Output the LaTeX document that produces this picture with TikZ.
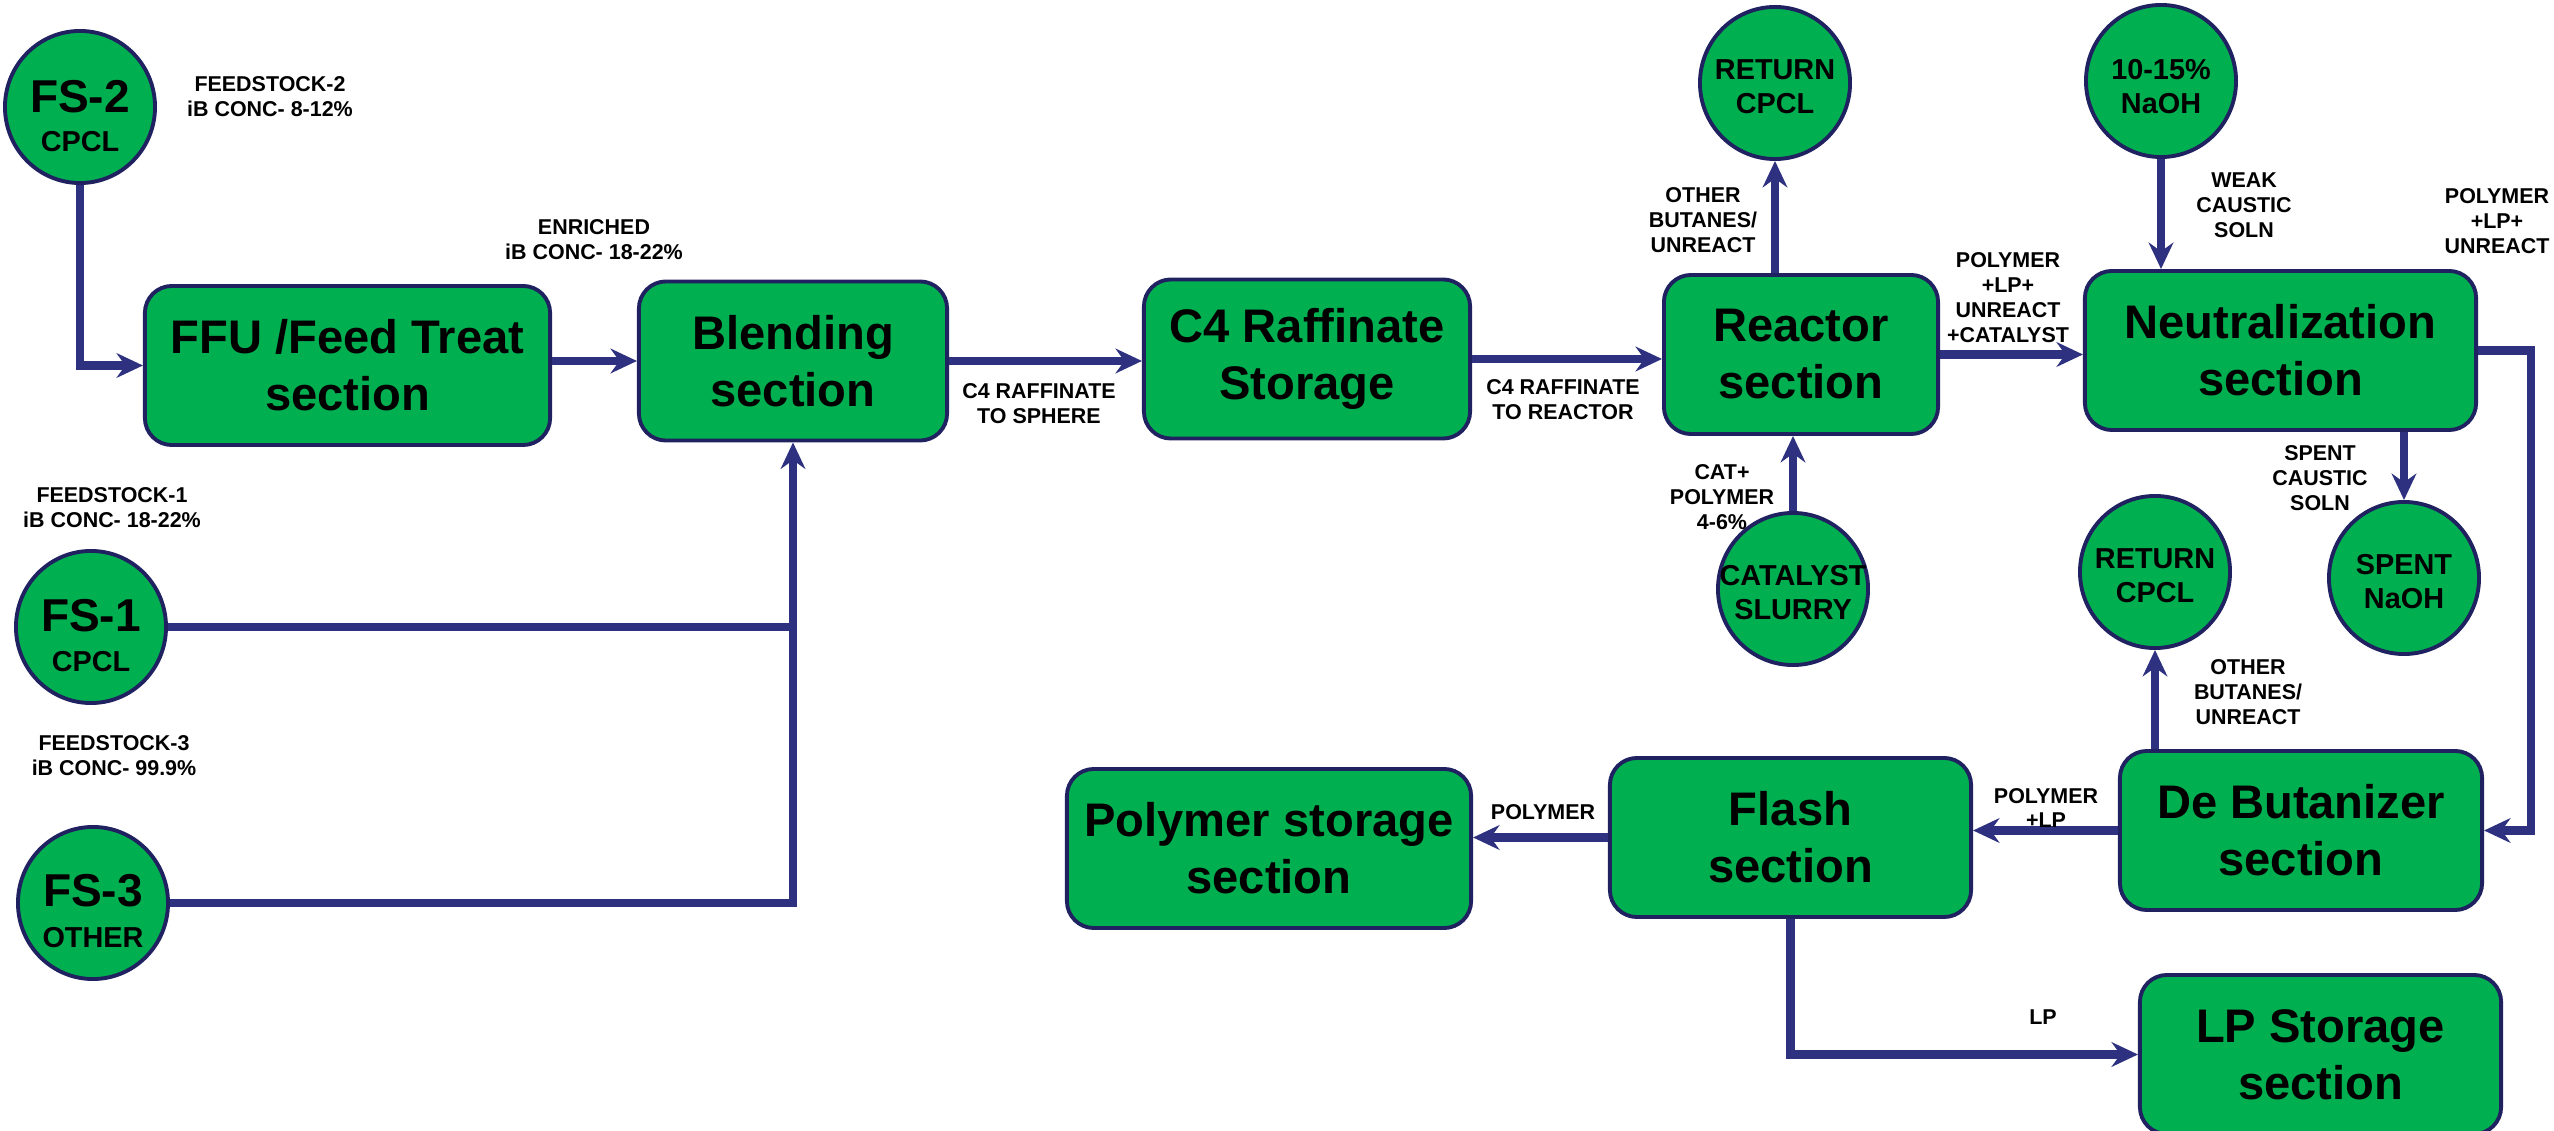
\documentclass[tikz,border=0pt]{standalone}
\usepackage{fontspec}
\setmainfont{Liberation Sans}
\usetikzlibrary{arrows.meta,calc,shapes.geometric}
\definecolor{flowblue}{RGB}{46,49,128}
\definecolor{boxgreen}{RGB}{0,175,80}
\definecolor{edgeblue}{RGB}{32,33,96}
\newcommand\boxfont{\fontsize{13.4}{16.2}\selectfont\bfseries}
\newcommand\bigcfont{\fontsize{13.1}{15}\selectfont\bfseries}
\newcommand\smcfont{\fontsize{8.2}{9.7}\selectfont\bfseries}
\newcommand\lblfont{\fontsize{6.1}{7.1}\selectfont\bfseries}
\begin{document}
\begin{tikzpicture}[x=0.01cm,y=-0.01cm,
  box/.style={draw=edgeblue, line width=1.1pt, fill=boxgreen, rounded corners=0.27cm,
    minimum height=1.59cm, align=center, font=\boxfont, inner sep=0pt},
  circ/.style={draw=edgeblue, line width=1.1pt, fill=boxgreen, ellipse,
    minimum width=1.5cm, minimum height=1.52cm, inner sep=0pt},
  bigt/.style={font=\bigcfont, inner sep=0pt},
  smt/.style={font=\smcfont, inner sep=0pt, align=center},
  lbl/.style={font=\lblfont, inner sep=0pt, align=center},
  line/.style={draw=flowblue, line width=2.3pt},
  flow/.style={line, -{Stealth[length=7.5pt,width=7pt,inset=2.5pt]}}
]
\fill[white] (0,0) rectangle (2554,1131);
\useasboundingbox (0,0) rectangle (2554,1131);

% process boxes
\node[box, minimum width=4.05cm] (ffu) at (347.5,365.5) {FFU /Feed Treat\\section};
\node[box, minimum width=3.08cm] (blend) at (793,361) {Blending\\section};
\node[box, minimum width=3.26cm] (c4) at (1307,359) {C4 Raffinate\\Storage};
\node[box, minimum width=2.74cm] (reactor) at (1801,354.5) {Reactor\\section};
\node[box, minimum width=3.91cm] (neut) at (2280.5,350.5) {Neutralization\\section};
\node[box, minimum width=4.04cm] (poly) at (1269,848.5) {Polymer storage\\section};
\node[box, minimum width=3.61cm] (flash) at (1790.5,837.5) {Flash\\section};
\node[box, minimum width=3.62cm] (debut) at (2301,830.5) {De Butanizer\\section};
\node[box, minimum width=3.61cm] (lp) at (2320.5,1054.5) {LP Storage\\section};

% circles
\node[circ] (fs2) at (80,107) {};
\node[bigt] (fs2a) at (80,97) {FS-2};
\node[smt] (fs2b) at (80,142) {CPCL};
\node[circ] (fs1) at (91,627) {};
\node[bigt] (fs1a) at (91,616) {FS-1};
\node[smt] (fs1b) at (91,662) {CPCL};
\node[circ] (fs3) at (93,903) {};
\node[bigt] (fs3a) at (93,891) {FS-3};
\node[smt] (fs3b) at (93,938) {OTHER};
\node[circ] (ret1) at (1775,83) {};
\node[smt] (ret1t) at (1775,87) {RETURN\\CPCL};
\node[circ] (naoh) at (2161,81) {};
\node[smt] (naoht) at (2161,87) {10-15\%\\NaOH};
\node[circ] (cat) at (1793,589) {};
\node[smt] (catt) at (1793,592.5) {CATALYST\\SLURRY};
\node[circ] (ret2) at (2155,572) {};
\node[smt] (ret2t) at (2155,575.5) {RETURN\\CPCL};
\node[circ] (spent) at (2404,578) {};
\node[smt] (spentt) at (2404,581.5) {SPENT\\NaOH};

% connectors
\coordinate (nc) at ($(neut.east)+(53,0)$);
\draw[flow] (fs2.south) |- (ffu.west);
\draw[flow] (ffu.east |- blend.west) -- (blend.west);
\draw[flow] (blend.east) -- (blend.east -| c4.west);
\draw[flow] (c4.east) -- (c4.east -| reactor.west);
\draw[flow] (reactor.east) -- (reactor.east -| neut.west);
\draw[flow] (reactor.north -| ret1.south) -- (ret1.south);
\draw[flow] (cat.north) -- (cat.north |- reactor.south);
\draw[flow] (naoh.south) -- (naoh.south |- neut.north);
\draw[flow] (neut.south -| spent.north) -- (spent.north);
\draw[flow] (neut.east) -- (nc) |- (debut.east);
\draw[flow] (debut.north -| ret2.south) -- (ret2.south);
\draw[flow] (debut.west) -- (debut.west -| flash.east);
\draw[flow] (flash.west) -- (flash.west -| poly.east);
\draw[flow] (flash.south) |- (lp.west);
\draw[line] (fs1.east) -- (fs1.east -| blend.south);
\draw[flow] (fs3.east) -| (blend.south);

% labels
\node[lbl] (l1) at (270,97) {FEEDSTOCK-2\\iB CONC- 8-12\%};
\node[lbl] (l2) at (594,240) {ENRICHED\\iB CONC- 18-22\%};
\node[lbl] (l3) at (112,508) {FEEDSTOCK-1\\iB CONC- 18-22\%};
\node[lbl] (l4) at (114,756) {FEEDSTOCK-3\\iB CONC- 99.9\%};
\node[lbl] (l5) at (1039,404) {C4 RAFFINATE\\TO SPHERE};
\node[lbl] (l6) at (1563,400) {C4 RAFFINATE\\TO REACTOR};
\node[lbl] (l7) at (1703,220) {OTHER\\BUTANES/\\UNREACT};
\node[lbl] (l8) at (2008,298) {POLYMER\\+LP+\\UNREACT\\+CATALYST};
\node[lbl] (l9) at (1722,497) {CAT+\\POLYMER\\4-6\%};
\node[lbl] (l10) at (2244,205) {WEAK\\CAUSTIC\\SOLN};
\node[lbl] (l11) at (2497,221) {POLYMER\\+LP+\\UNREACT};
\node[lbl] (l12) at (2320,478) {SPENT\\CAUSTIC\\SOLN};
\node[lbl] (l13) at (2248,692) {OTHER\\BUTANES/\\UNREACT};
\node[lbl] (l14) at (1543,812) {POLYMER};
\node[lbl] (l15) at (2046,808) {POLYMER\\+LP};
\node[lbl] (l16) at (2043,1017) {LP};
\end{tikzpicture}
\end{document}
